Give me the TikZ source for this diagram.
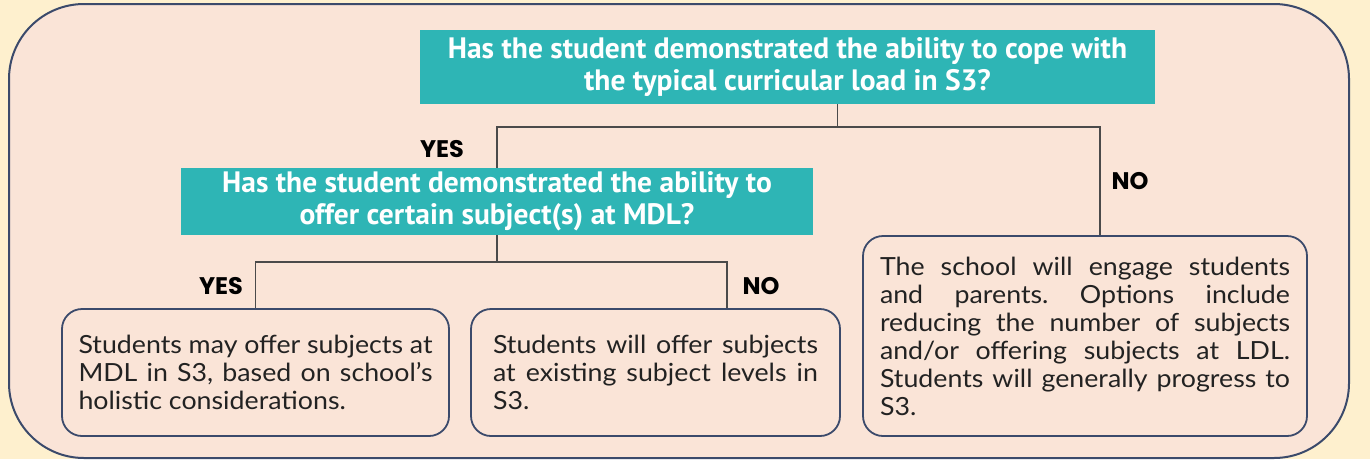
\documentclass[tikz,border=0pt]{standalone}
\usepackage{fontspec}
\setmainfont{Lato}[FakeStretch=1.07]
\newfontfamily\qfont{PT Sans}
\newfontfamily\lblfont{Poppins}
\definecolor{pagebg}{HTML}{FEF0CE}
\definecolor{panel}{HTML}{FAE4D7}
\definecolor{navy}{HTML}{3B4A6B}
\definecolor{teal}{HTML}{2EB5B5}
\definecolor{wire}{HTML}{4A4A4A}
\definecolor{ink}{HTML}{222222}
\frenchspacing
\newcommand{\boxtext}[2]{\parbox{#1}{\frenchspacing\hyphenpenalty=10000\exhyphenpenalty=10000\emergencystretch=3em\tolerance=9999 #2}}
\begin{document}
\begin{tikzpicture}[x=1pt,y=-1pt,
  question/.style={fill=teal,draw=none,text=white,align=center,inner sep=0pt,
    font=\qfont\bfseries\fontsize{29.5}{32}\selectfont},
  outcome/.style={draw=navy,line width=1.8pt,fill=panel,rounded corners=20pt,inner sep=0pt,
    text=ink,font=\fontsize{25}{28}\selectfont},
  answer/.style={font=\lblfont\bfseries\fontsize{24}{26}\selectfont,text=black,inner sep=0pt},
  wire/.style={draw=wire,line width=1.4pt}]
\useasboundingbox (0,0) rectangle (1370,459);
\fill[pagebg] (0,0) rectangle (1370,459);
\draw[navy,line width=2pt,fill=panel,rounded corners=75pt] (9,4) rectangle (1349,458);

\node[question,minimum width=735pt,minimum height=74pt] (q1) at (787.5,67)
  {Has the student demonstrated the ability to cope with\\the typical curricular load in S3?};
\node[question,minimum width=632pt,minimum height=67pt] (q2) at (497,201.5)
  {Has the student demonstrated the ability to\\offer certain subject(s) at MDL?};

\node[outcome,minimum width=387pt,minimum height=127pt] (a1) at (255.5,372.5)
  {\boxtext{354pt}{Students may offer subjects at\linebreak MDL in S3, based on school’s\linebreak holistic considerations.}};
\node[outcome,minimum width=369pt,minimum height=127pt] (a2) at (655.5,372.5)
  {\boxtext{325pt}{Students will offer subjects\linebreak at existing subject levels in\linebreak S3.}};
\node[outcome,minimum width=444pt,minimum height=200pt] (a3) at (1085,336)
  {\boxtext{410pt}{The school will engage students\linebreak and parents. Options include\linebreak reducing the number of subjects\linebreak and/or offering subjects at LDL.\linebreak Students will generally progress to\linebreak S3.}};

\coordinate (q1out) at ([xshift=50pt]q1.south);
\coordinate (a3in) at ([xshift=15pt]a3.north);
\coordinate (a2in) at ([xshift=71.5pt]a2.north);
\coordinate (j1) at (838,127);
\coordinate (j2) at (492,262);

\draw[wire] (q1out) -- (q1out |- j1);
\draw[wire] (q2.north) -- (q2.north |- j1) -- (a3in |- j1) -- (a3in);
\draw[wire] (q2.south) -- (q2.south |- j2);
\draw[wire] (a1.north) -- (a1.north |- j2) -- (a2in |- j2) -- (a2in);

\node[answer] (y1) at (442,149) {YES};
\node[answer] (n1) at (1130,181) {NO};
\node[answer] (y2) at (221,286) {YES};
\node[answer] (n2) at (761,286) {NO};
\end{tikzpicture}
\end{document}
